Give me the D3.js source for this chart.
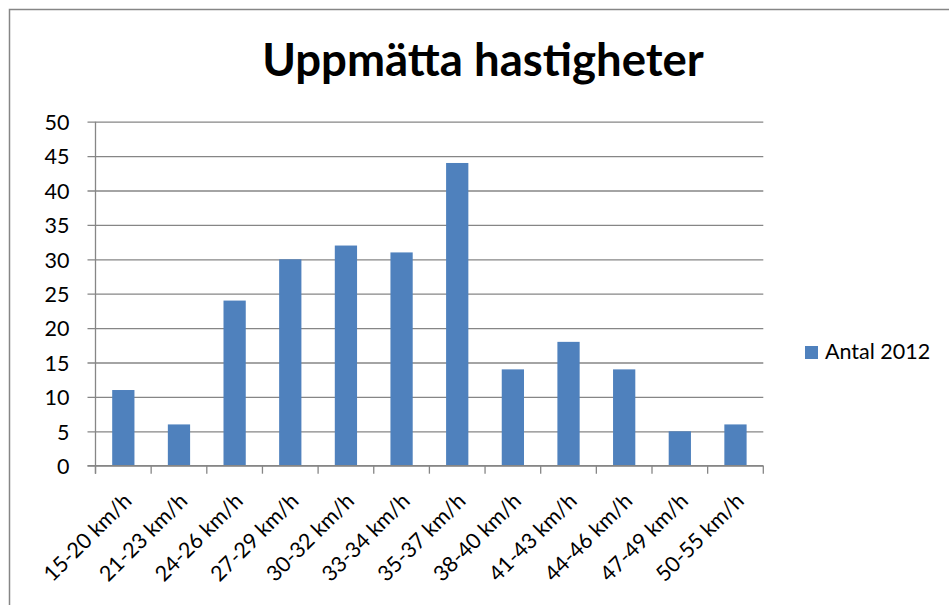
<!DOCTYPE html>
<html>
<head>
<meta charset="utf-8">
<script src="https://cdn.jsdelivr.net/npm/d3@7"></script>
<style>
  html, body { margin: 0; padding: 0; background: #fff; overflow: hidden; }
  svg { display: block; }
  text { font-family: Lato, "Open Sans", sans-serif; fill: #000; }
</style>
</head>
<body>
<svg id="chart" width="949" height="605"></svg>
<script>
const titleText = "Uppmätta hastigheter";
const categories = ["15-20 km/h", "21-23 km/h", "24-26 km/h", "27-29 km/h", "30-32 km/h", "33-34 km/h",
                    "35-37 km/h", "38-40 km/h", "41-43 km/h", "44-46 km/h", "47-49 km/h", "50-55 km/h"];
const values = [11, 6, 24, 30, 32, 31, 44, 14, 18, 14, 5, 6];
const seriesName = "Antal 2012";
const yTicks = [0, 5, 10, 15, 20, 25, 30, 35, 40, 45, 50];

const svg = d3.select("#chart");
const plot = { left: 95.5, right: 763.3, top: 121.7, bottom: 465.7 };
const barColor = "#4F81BD";
const gridColor = "#868686";
const tickFont = 21.5;

// outer chart border (extends beyond viewport on right/bottom)
svg.append("rect")
  .attr("x", 9.5).attr("y", 9.5).attr("width", 1200).attr("height", 1200)
  .attr("fill", "#fff").attr("stroke", "#868686").attr("stroke-width", 1.5);

const x = d3.scaleBand().domain(categories).range([plot.left, plot.right]).paddingInner(0.6).paddingOuter(0.3);
const xb = d3.scaleBand().domain(categories).range([plot.left, plot.right]);
const y = d3.scaleLinear().domain([0, 50]).range([plot.bottom, plot.top]);

// gridlines + y axis
const yAxis = d3.axisLeft(y).tickValues(yTicks).tickSize(-(plot.right - plot.left)).tickPadding(0).tickFormat(d3.format("d"));
const gy = svg.append("g").attr("transform", `translate(${plot.left},0)`).call(yAxis);
gy.select(".domain").remove();
gy.selectAll(".tick line").attr("x1", -8).attr("stroke", gridColor).attr("stroke-width", 1.3);
gy.selectAll(".tick text").attr("x", -26).attr("dy", "0.36em")
  .style("font-size", tickFont + "px").style("font-family", "Lato, sans-serif").attr("fill", "#000");

// bars
svg.append("g").selectAll("rect").data(values).join("rect")
  .attr("x", (d, i) => x(categories[i]))
  .attr("width", x.bandwidth())
  .attr("y", d => y(d))
  .attr("height", d => y(0) - y(d))
  .attr("fill", barColor);

// y axis line
svg.append("line").attr("x1", plot.left).attr("x2", plot.left).attr("y1", plot.top).attr("y2", plot.bottom + 8)
  .attr("stroke", gridColor).attr("stroke-width", 1.3);

// x axis line with ticks at category boundaries
svg.append("line").attr("x1", plot.left - 8).attr("x2", plot.right).attr("y1", plot.bottom).attr("y2", plot.bottom)
  .attr("stroke", gridColor).attr("stroke-width", 1.3);
const bounds = categories.map(c => xb(c)).concat([plot.right]);
svg.append("g").selectAll("line").data(bounds).join("line")
  .attr("x1", d => d).attr("x2", d => d).attr("y1", plot.bottom).attr("y2", plot.bottom + 8)
  .attr("stroke", gridColor).attr("stroke-width", 1.3);

// x labels rotated
svg.append("g").selectAll("text").data(categories).join("text")
  .attr("transform", d => `translate(${xb(d) + xb.bandwidth() / 2 - 1},${plot.bottom + 26}) rotate(-45)`)
  .attr("text-anchor", "end")
  .attr("dy", "0.7em")
  .style("font-size", tickFont + "px")
  .text(d => d);

// title
svg.append("text").attr("x", 483).attr("y", 76).attr("text-anchor", "middle")
  .style("font-size", "45.5px").style("font-weight", "bold").text(titleText);

// legend
svg.append("rect").attr("x", 805).attr("y", 346).attr("width", 13).attr("height", 13).attr("fill", barColor);
svg.append("text").attr("x", 825).attr("y", 359).style("font-size", tickFont + "px").text(seriesName);
</script>
</body>
</html>
